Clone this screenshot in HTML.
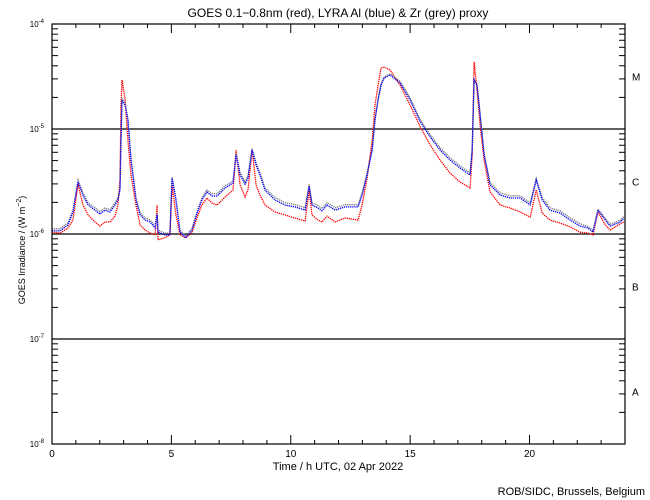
<!DOCTYPE html>
<html><head><meta charset="utf-8"><style>
html,body{margin:0;padding:0;background:#fff;}
svg{display:block;font-family:"Liberation Sans",sans-serif;}
</style></head><body>
<svg id="chart" width="650" height="500" viewBox="0 0 650 500">
<rect x="0" y="0" width="650" height="500" fill="#fff"/>
<text x="338" y="17" font-size="12" text-anchor="middle">GOES 0.1−0.8nm (red), LYRA Al (blue) &amp; Zr (grey) proxy</text>
<g id="grid"></g>
<g id="series"></g>
<g id="axes"></g>
<text x="338" y="470" font-size="11" text-anchor="middle">Time / h UTC, 02 Apr 2022</text>
<text transform="translate(25,250) rotate(-90)" font-size="9" text-anchor="middle">GOES Irradiance / (W m<tspan dy="-4" font-size="7">−2</tspan><tspan dy="4">)</tspan></text>
<text x="645" y="495" font-size="11" text-anchor="end">ROB/SIDC, Brussels, Belgium</text>
</svg>
<script>
const times = [0,0.34,0.67,0.88,1.09,1.30,1.51,1.80,2.01,2.22,2.43,2.64,2.76,2.85,2.89,2.93,3.06,3.18,3.31,3.52,3.69,3.90,4.11,4.32,4.40,4.44,4.73,4.94,5.03,5.19,5.36,5.61,5.87,6.07,6.28,6.49,6.70,6.91,7.25,7.58,7.71,7.88,8.09,8.21,8.38,8.55,8.71,8.92,9.34,9.76,10.18,10.60,10.77,10.89,11.14,11.31,11.52,11.86,12.27,12.82,12.99,13.20,13.41,13.53,13.66,13.78,13.91,14.16,14.58,15.00,15.42,15.84,16.25,16.67,17.09,17.51,17.60,17.68,17.80,17.93,18.10,18.35,18.77,19.19,19.61,20.03,20.28,20.53,20.86,21.28,21.70,22.12,22.45,22.66,22.87,23.17,23.38,23.80,23.96];
const goesRed = [1.04e-6,1.02e-6,1.14e-6,1.36e-6,2.99e-6,1.89e-6,1.52e-6,1.30e-6,1.19e-6,1.30e-6,1.30e-6,1.48e-6,1.89e-6,3.27e-6,1.69e-5,2.93e-5,1.89e-5,7.85e-6,3.65e-6,1.89e-6,1.22e-6,1.09e-6,1.02e-6,0.98e-6,1.89e-6,0.88e-6,0.92e-6,0.98e-6,2.93e-6,1.52e-6,0.98e-6,0.92e-6,1.04e-6,1.42e-6,1.89e-6,2.20e-6,1.97e-6,1.89e-6,2.25e-6,2.62e-6,6.31e-6,2.93e-6,2.25e-6,2.62e-6,6.31e-6,2.93e-6,2.35e-6,1.89e-6,1.62e-6,1.52e-6,1.42e-6,1.33e-6,2.62e-6,1.52e-6,1.36e-6,1.30e-6,1.48e-6,1.30e-6,1.42e-6,1.36e-6,1.89e-6,3.41e-6,7.85e-6,1.69e-5,2.62e-5,3.81e-5,3.89e-5,3.65e-5,2.62e-5,1.69e-5,1.05e-5,7.04e-6,5.07e-6,3.81e-6,3.13e-6,2.74e-6,5.65e-6,4.35e-5,2.35e-5,1.09e-5,5.07e-6,2.51e-6,1.89e-6,1.77e-6,1.62e-6,1.45e-6,2.62e-6,1.58e-6,1.36e-6,1.27e-6,1.17e-6,1.04e-6,1.02e-6,0.98e-6,1.62e-6,1.22e-6,1.09e-6,1.25e-6,1.30e-6];
const lyraAlBlue = [1.07e-6,1.07e-6,1.22e-6,1.62e-6,3.13e-6,2.35e-6,1.89e-6,1.69e-6,1.55e-6,1.69e-6,1.62e-6,1.89e-6,2.11e-6,2.62e-6,7.85e-6,1.89e-5,1.69e-5,1.22e-5,5.07e-6,2.11e-6,1.52e-6,1.36e-6,1.30e-6,1.14e-6,1.52e-6,1.04e-6,0.98e-6,0.98e-6,3.41e-6,2.11e-6,1.04e-6,0.92e-6,1.09e-6,1.55e-6,2.11e-6,2.51e-6,2.30e-6,2.30e-6,2.74e-6,3.06e-6,5.65e-6,3.65e-6,2.99e-6,3.41e-6,6.31e-6,4.54e-6,3.65e-6,2.62e-6,2.11e-6,1.89e-6,1.81e-6,1.69e-6,2.86e-6,1.89e-6,1.77e-6,1.66e-6,1.89e-6,1.69e-6,1.81e-6,1.81e-6,2.35e-6,3.65e-6,6.31e-6,1.22e-5,1.89e-5,2.62e-5,3.06e-5,3.27e-5,2.74e-5,1.89e-5,1.17e-5,8.39e-6,6.31e-6,5.07e-6,4.25e-6,3.65e-6,6.31e-6,2.93e-5,2.62e-5,1.36e-5,5.65e-6,2.93e-6,2.35e-6,2.20e-6,2.20e-6,1.89e-6,3.27e-6,2.11e-6,1.69e-6,1.58e-6,1.36e-6,1.19e-6,1.14e-6,1.04e-6,1.69e-6,1.36e-6,1.19e-6,1.30e-6,1.42e-6];
const lyraZrGrey = [1.12e-6,1.12e-6,1.28e-6,1.70e-6,3.27e-6,2.46e-6,1.98e-6,1.78e-6,1.63e-6,1.77e-6,1.70e-6,1.98e-6,2.21e-6,2.75e-6,8.2e-6,1.95e-5,1.75e-5,1.27e-5,5.3e-6,2.21e-6,1.60e-6,1.43e-6,1.36e-6,1.20e-6,1.58e-6,1.09e-6,1.02e-6,1.02e-6,3.5e-6,2.2e-6,1.09e-6,0.96e-6,1.14e-6,1.62e-6,2.21e-6,2.63e-6,2.42e-6,2.42e-6,2.88e-6,3.2e-6,5.9e-6,3.83e-6,3.14e-6,3.58e-6,6.5e-6,4.76e-6,3.83e-6,2.75e-6,2.22e-6,1.99e-6,1.90e-6,1.78e-6,2.98e-6,1.99e-6,1.86e-6,1.75e-6,1.99e-6,1.78e-6,1.90e-6,1.90e-6,2.47e-6,3.83e-6,6.5e-6,1.25e-5,1.93e-5,2.68e-5,3.12e-5,3.36e-5,2.85e-5,1.98e-5,1.23e-5,8.8e-6,6.63e-6,5.32e-6,4.46e-6,3.83e-6,6.5e-6,2.98e-5,2.70e-5,1.42e-5,5.9e-6,3.08e-6,2.47e-6,2.31e-6,2.31e-6,1.98e-6,3.38e-6,2.22e-6,1.78e-6,1.66e-6,1.43e-6,1.25e-6,1.18e-6,1.08e-6,1.72e-6,1.41e-6,1.24e-6,1.35e-6,1.47e-6];
const yTickExps = [-4,-5,-6,-7,-8];
const classLabels = ["M","C","B","A"];
const classLineValues = [1e-5,1e-6,1e-7];
const xTickLabels = [0,5,10,15,20];

const NS = "http://www.w3.org/2000/svg";
const L = 52, R = 625, T = 24, B = 444;
const xS = h => L + (h / 24) * (R - L);
const yS = v => B - (Math.log10(v) + 8) / 4 * (B - T);
function mk(tag, attrs, parent) {
  const e = document.createElementNS(NS, tag);
  for (const k in attrs) e.setAttribute(k, attrs[k]);
  parent.appendChild(e);
  return e;
}
const grid = document.getElementById('grid');
classLineValues.forEach(v => {
  const ln = mk('line', {x1: L, x2: R, y1: yS(v), y2: yS(v), stroke: '#000', 'stroke-width': 1.2}, grid);
  
  
});
const sg = document.getElementById('series');
function drawSeries(vals, color, name) {
  const pts = times.map((t, i) => xS(t).toFixed(1) + ',' + yS(vals[i]).toFixed(1)).join(' ');
  const pl = mk('polyline', {points: pts, fill: 'none', stroke: color, 'stroke-width': 1.3, 'stroke-dasharray': '1.3 0.8'}, sg);
  
  
}
drawSeries(goesRed, '#ff0000', 'goes-red-series');
drawSeries(lyraZrGrey, '#808080', 'lyra-zr-grey-series');
drawSeries(lyraAlBlue, '#0000ff', 'lyra-al-blue-series');

const ax = document.getElementById('axes');
const frame = mk('rect', {x: L, y: T, width: R - L, height: B - T, fill: 'none', stroke: '#000', 'stroke-width': 1.2}, ax);


for (let e = -8; e < -4; e++) {
  for (let m = 2; m <= 9; m++) {
    const y = yS(m * Math.pow(10, e));
    mk('line', {x1: L, x2: L + 6, y1: y, y2: y, stroke: '#000'}, ax);
    mk('line', {x1: R - 6, x2: R, y1: y, y2: y, stroke: '#000'}, ax);
  }
}
yTickExps.forEach(e => {
  const y = yS(Math.pow(10, e));
  mk('line', {x1: L, x2: L + 10, y1: y, y2: y, stroke: '#000'}, ax);
  mk('line', {x1: R - 10, x2: R, y1: y, y2: y, stroke: '#000'}, ax);
  const t = mk('text', {x: 44, y: y + 3, 'font-size': 8, 'text-anchor': 'end'}, ax);
  t.textContent = '10';
  const s = mk('tspan', {dy: -4, 'font-size': 6}, t);
  s.textContent = String(e);
  
  
});
classLabels.forEach((c, i) => {
  const y = yS(Math.pow(10, -4.5 - i));
  const t = mk('text', {x: 632, y: y + 4, 'font-size': 10}, ax);
  t.textContent = c;
  
  
});
for (let h = 1; h < 24; h++) {
  const x = xS(h), len = h % 5 === 0 ? 9 : 4;
  mk('line', {x1: x, x2: x, y1: T, y2: T + len, stroke: '#000'}, ax);
  mk('line', {x1: x, x2: x, y1: B, y2: B - len, stroke: '#000'}, ax);
}
xTickLabels.forEach(h => {
  const t = mk('text', {x: xS(h), y: 457, 'font-size': 10, 'text-anchor': 'middle'}, ax);
  t.textContent = String(h);
  
  
});
</script>
</body></html>
